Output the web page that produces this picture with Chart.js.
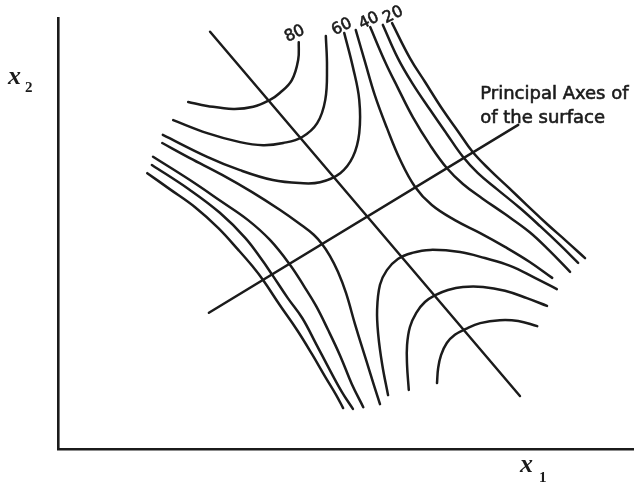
<!DOCTYPE html>
<html>
<head>
<meta charset="utf-8">
<script src="https://cdn.jsdelivr.net/npm/chart.js@4.4.1/dist/chart.umd.min.js"></script>
<style>
  body { margin: 0; background: #fff; }
  #contenedor { width: 634px; height: 485px; }
</style>
</head>
<body>
<div id="contenedor"><canvas id="superficie"></canvas></div>
<script>
/*********** Datos: curvas de nivel de la superficie (x1, x2 en unidades 0-100) ***********/

// ejes principales de la superficie
var ejeMayor = [[26.4, 96.8], [80.2, 12.3]];
var ejeMenor = [[26.2, 31.6], [79.9, 75.2]];

// cuadrante superior izquierdo (80 arriba)
var no1 = [[41.8, 94.4], [41.7, 90.3], [40.6, 85.6], [38.5, 82.6], [36.8, 81.0], [33.9, 79.4], [30.4, 78.9], [25.9, 79.6], [22.6, 80.5]];
var no2 = [[46.5, 95.8], [46.7, 88.6], [46.4, 81.0], [45.0, 75.6], [42.4, 72.4], [39.1, 71.0], [35.6, 70.5], [31.6, 71.2], [25.9, 73.3], [20.0, 76.3]];
var no3 = [[49.7, 96.5], [51.2, 88.6], [52.3, 81.0], [52.3, 73.3], [51.2, 67.8], [49.0, 64.0], [45.5, 61.9], [42.0, 61.7], [37.3, 62.4], [31.6, 64.7], [25.9, 67.8], [18.2, 72.9]];

// cuadrante superior derecho
var ne1 = [[51.7, 97.2], [53.3, 89.8], [55.0, 82.1], [57.1, 74.5], [59.4, 67.1], [62.0, 60.8], [64.9, 56.6], [68.9, 53.1], [73.3, 50.1], [77.6, 46.9], [81.9, 43.4], [85.8, 39.7]];
var ne2 = [[54.2, 97.9], [56.8, 89.8], [59.0, 83.8], [61.6, 77.0], [64.6, 70.5], [67.5, 65.2], [70.3, 61.5], [73.6, 58.2], [77.6, 54.5], [81.9, 50.3], [85.4, 45.9], [88.9, 41.1]];
var ne3 = [[56.4, 98.4], [59.0, 90.7], [61.5, 84.9], [64.6, 78.7], [67.5, 73.1], [70.3, 67.8], [72.9, 64.0], [76.2, 60.3], [80.2, 55.9], [83.7, 51.7], [87.2, 47.3], [90.3, 43.2]];
var ne4 = [[58.0, 98.8], [61.1, 90.7], [63.7, 85.2], [66.8, 78.7], [69.4, 73.8], [72.0, 68.9], [75.0, 64.7], [78.1, 60.8], [81.4, 56.6], [84.9, 52.2], [88.2, 48.3], [91.5, 44.3]];

// cuadrante inferior izquierdo
var so1 = [[18.1, 71.0], [22.9, 67.5], [28.5, 63.6], [33.7, 59.6], [38.5, 55.5], [42.0, 52.2], [44.4, 49.7], [45.8, 47.6], [47.2, 44.8], [48.6, 41.1], [50.0, 36.2], [51.6, 28.8], [53.5, 20.6], [54.9, 14.6], [55.9, 10.4]];
var so2 = [[16.5, 67.8], [22.9, 62.4], [28.5, 57.3], [33.0, 53.1], [36.8, 48.5], [40.3, 42.7], [42.7, 37.8], [44.8, 33.2], [46.9, 27.6], [49.0, 21.6], [51.0, 15.1], [53.0, 9.7]];
var so3 = [[16.3, 65.9], [22.9, 60.1], [28.1, 54.8], [32.5, 49.0], [35.4, 43.9], [37.2, 40.4], [39.9, 35.0], [42.4, 30.4], [44.8, 24.4], [47.2, 18.3], [49.3, 13.2], [51.2, 9.3]];
var so4 = [[15.5, 64.0], [19.4, 60.3], [23.8, 56.1], [27.8, 51.3], [31.3, 46.2], [33.7, 42.5], [35.6, 39.2], [38.5, 33.4], [41.5, 27.6], [44.1, 22.0], [46.5, 16.5], [48.3, 12.5], [49.5, 9.5]];

// cuadrante inferior derecho
var se1 = [[57.3, 12.5], [56.3, 19.5], [55.6, 26.5], [55.4, 32.3], [55.9, 38.1], [57.1, 41.5], [59.0, 44.1], [61.5, 45.5], [64.6, 46.2], [69.8, 45.7], [74.1, 44.3], [78.5, 42.5], [82.8, 39.7], [86.6, 37.1]];
var se2 = [[60.9, 13.7], [60.6, 19.5], [60.6, 24.1], [61.1, 28.3], [62.2, 31.6], [63.7, 34.1], [65.5, 35.7], [67.7, 36.9], [70.3, 37.6], [73.8, 37.6], [77.6, 36.7], [81.4, 35.0], [84.9, 33.2]];
var se3 = [[65.8, 15.3], [66.0, 18.8], [66.5, 21.8], [67.5, 24.6], [68.9, 26.5], [70.7, 27.8], [73.3, 29.2], [76.7, 29.9], [79.9, 29.7], [83.2, 28.5]];

// valores de las curvas rotuladas
var niveles = ['80', '60', '40', '20'];


/*********** Gráfico ***********/

var tinta = '#1b1b1b';

function curva(puntos, ancho) {
  return {
    data: puntos.map(function (p) { return { x: p[0], y: p[1] }; }),
    showLine: true,
    tension: puntos.length > 2 ? 0.4 : 0,
    borderColor: tinta,
    borderWidth: ancho || 2.5,
    borderCapStyle: 'round',
    pointRadius: 0,
    fill: false
  };
}

// texto algo más grueso, como el rotulado original
function escribir(ctx, txt, x, y) {
  ctx.fillText(txt, x, y);
  ctx.strokeText(txt, x, y);
}

// rótulos: niveles, nota de los ejes y nombres x1 / x2
var rotulos = {
  id: 'rotulos',
  afterDatasetsDraw: function (chart) {
    var ctx = chart.ctx, sx = chart.scales.x, sy = chart.scales.y;
    var anclas = [[41.1, 96.3], [49.3, 97.9], [54.0, 99.3], [58.2, 100.7]];
    ctx.save();
    ctx.fillStyle = tinta;
    ctx.strokeStyle = tinta;
    ctx.lineWidth = 0.6;

    ctx.font = '16px "DejaVu Sans"';
    ctx.textAlign = 'center';
    ctx.textBaseline = 'middle';
    niveles.forEach(function (txt, i) {
      ctx.save();
      ctx.translate(sx.getPixelForValue(anclas[i][0]), sy.getPixelForValue(anclas[i][1]));
      ctx.rotate(-0.45);
      escribir(ctx, txt, 0, 0);
      ctx.restore();
    });

    ctx.textAlign = 'left';
    ctx.textBaseline = 'alphabetic';
    ctx.font = '18px "DejaVu Sans"';
    escribir(ctx, 'Principal Axes of', sx.getPixelForValue(73.3), sy.getPixelForValue(81.2));
    escribir(ctx, 'of the surface', sx.getPixelForValue(73.3), sy.getPixelForValue(75.6));

    // nombres de las variables
    ctx.font = 'italic bold 26px "Liberation Serif"';
    ctx.fillText('x', 520, 472);
    ctx.fillText('x', 8, 84);
    ctx.font = 'bold 15px "Liberation Serif"';
    ctx.fillText('1', 539, 482);
    ctx.fillText('2', 25, 92);
    ctx.restore();
  }
};

var ejeSinMarcas = {
  type: 'linear',
  min: 0,
  max: 100,
  grid: { display: false, drawTicks: false },
  ticks: { display: false },
  border: { display: true, color: tinta, width: 2.6 }
};

var config = {
  type: 'scatter',
  data: {
    datasets: [
      curva(ejeMayor), curva(ejeMenor),
      curva(no1), curva(no2), curva(no3),
      curva(ne1), curva(ne2), curva(ne3), curva(ne4),
      curva(so1), curva(so2), curva(so3), curva(so4),
      curva(se1), curva(se2), curva(se3)
    ]
  },
  options: {
    responsive: true,
    maintainAspectRatio: false,
    animation: false,
    layout: { padding: { left: 58, top: 18, right: 0, bottom: 36 } },
    scales: {
      x: Object.assign({ position: 'bottom' }, ejeSinMarcas),
      y: Object.assign({ position: 'left' }, ejeSinMarcas)
    },
    plugins: {
      legend: { display: false },
      tooltip: { enabled: false }
    }
  },
  plugins: [rotulos]
};

var chart = new Chart(document.getElementById('superficie').getContext('2d'), config);
</script>
</body>
</html>
